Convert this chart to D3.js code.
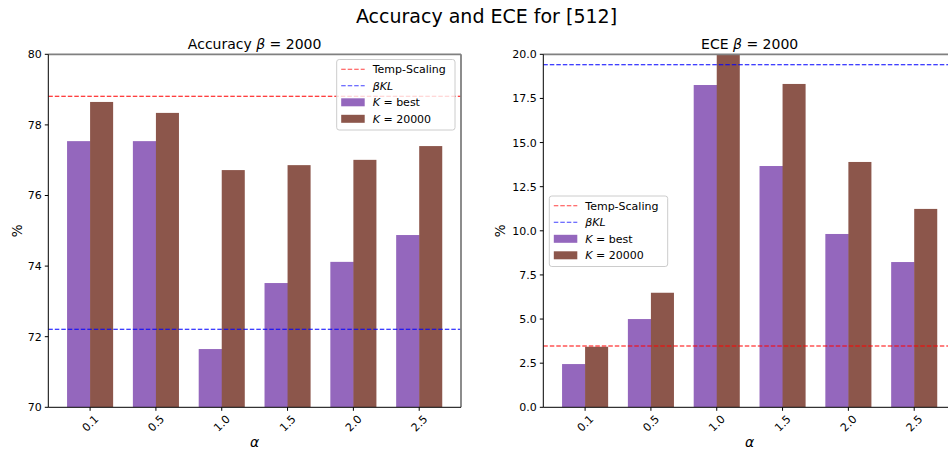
<!DOCTYPE html>
<html>
<head>
<meta charset="utf-8">
<script src="https://cdn.jsdelivr.net/npm/d3@7"></script>
<style>
  html, body { margin: 0; padding: 0; background: #fff; }
  svg { display: block; font-family: "DejaVu Sans", sans-serif; }
</style>
</head>
<body>
<svg id="fig" width="948" height="455"></svg>
<script>
// alpha values on the x axis
const alphas = ["0.1", "0.5", "1.0", "1.5", "2.0", "2.5"];

// Accuracy (%) per alpha
const accBest = [77.54, 77.54, 71.65, 73.52, 74.12, 74.88];
const acc20000 = [78.65, 78.34, 76.72, 76.86, 77.01, 77.40];
const accTempScaling = 78.81;
const accBetaKL = 72.21;
const accTicks = [70, 72, 74, 76, 78, 80];

// ECE (%) per alpha
const eceBest = [2.45, 5.00, 18.26, 13.67, 9.82, 8.23];
const ece20000 = [3.43, 6.49, 20.0, 18.32, 13.90, 11.24];
const eceTempScaling = 3.47;
const eceBetaKL = 19.41;
const eceTicks = [0, 2.5, 5, 7.5, 10, 12.5, 15, 17.5, 20];

const legendLabels = ["Temp-Scaling", "βKL", "K = best", "K = 20000"];

const C_BEST = "#9467bd", C_20K = "#8c564b", C_TS = "#ff0000", C_KL = "#0000ff";
const BAR_W = 0.35;

const svg = d3.select("#fig");

svg.append("text")
  .attr("x", 486.5).attr("y", 22.5)
  .attr("text-anchor", "middle")
  .style("font-size", "19px")
  .text("Accuracy and ECE for [512]");

function panel(opts) {
  const { x0, x1, y0, y1, domain, ticks, fmt, best, k20, ts, kl, title, legendPos, id, ylabelOffset } = opts;
  const g = svg.append("g");
  const x = d3.scaleLinear().domain([-0.635, alphas.length - 1 + 0.635]).range([x0, x1]);
  const y = d3.scaleLinear().domain(domain).range([y1, y0]);

  g.append("clipPath").attr("id", id).append("rect")
    .attr("x", x0).attr("y", y0).attr("width", x1 - x0).attr("height", y1 - y0);
  const plot = g.append("g").attr("clip-path", `url(#${id})`);

  // bars
  plot.selectAll("rect.best").data(best).join("rect")
    .attr("x", (d, i) => x(i - BAR_W))
    .attr("width", (d, i) => x(i) - x(i - BAR_W) + 0.5)
    .attr("y", d => y(d))
    .attr("height", d => y(domain[0]) - y(d))
    .attr("fill", C_BEST);
  plot.selectAll("rect.k20").data(k20).join("rect")
    .attr("x", (d, i) => x(i))
    .attr("width", (d, i) => x(i + BAR_W) - x(i))
    .attr("y", d => y(d))
    .attr("height", d => y(domain[0]) - y(d))
    .attr("fill", C_20K);

  // reference lines
  [[ts, C_TS], [kl, C_KL]].forEach(([v, c]) => {
    plot.append("line")
      .attr("x1", x0).attr("x2", x1).attr("y1", y(v)).attr("y2", y(v))
      .attr("stroke", c).attr("stroke-width", 1.1)
      .attr("stroke-dasharray", "4.5,2");
  });

  // spines
  g.append("line").attr("x1", x0).attr("x2", x1).attr("y1", y0).attr("y2", y0)
    .attr("stroke", "#808080").attr("stroke-width", 1.8);
  g.append("line").attr("x1", x1).attr("x2", x1).attr("y1", y0).attr("y2", y1)
    .attr("stroke", "#808080").attr("stroke-width", 1.8);
  g.append("line").attr("x1", x0).attr("x2", x0).attr("y1", y0).attr("y2", y1)
    .attr("stroke", "#000").attr("stroke-width", 1);
  g.append("line").attr("x1", x0).attr("x2", x1).attr("y1", y1).attr("y2", y1)
    .attr("stroke", "#000").attr("stroke-width", 1);

  // y ticks
  ticks.forEach(t => {
    g.append("line").attr("x1", x0 - 3.5).attr("x2", x0).attr("y1", y(t)).attr("y2", y(t))
      .attr("stroke", "#000").attr("stroke-width", 1);
    g.append("text").attr("x", x0 - 6.5).attr("y", y(t)).attr("dy", "0.36em")
      .attr("text-anchor", "end").style("font-size", "11px").text(fmt(t));
  });

  // x ticks
  alphas.forEach((a, i) => {
    g.append("line").attr("x1", x(i)).attr("x2", x(i)).attr("y1", y1).attr("y2", y1 + 3.5)
      .attr("stroke", "#000").attr("stroke-width", 1);
    g.append("text")
      .attr("transform", `translate(${x(i)},${y1 + 16}) rotate(-45)`)
      .attr("text-anchor", "middle").attr("dy", "0.36em")
      .style("font-size", "11px").text(a);
  });

  // axis labels
  g.append("text").attr("x", (x0 + x1) / 2).attr("y", y1 + 34.5)
    .attr("dy", "0.36em").attr("text-anchor", "middle")
    .style("font-size", "14px").style("font-style", "italic").text("α");
  g.append("text")
    .attr("transform", `translate(${x0 - ylabelOffset},${(y0 + y1) / 2}) rotate(-90)`)
    .attr("text-anchor", "middle").attr("dy", "0.36em")
    .style("font-size", "13.5px").text("%");

  // title
  const tt = g.append("text").attr("x", (x0 + x1) / 2).attr("y", y0 - 5)
    .attr("text-anchor", "middle").style("font-size", "14px");
  tt.append("tspan").text(title + " ");
  tt.append("tspan").style("font-style", "italic").text("β");
  tt.append("tspan").text(" = 2000");

  // legend
  const lg = g.append("g").attr("transform", `translate(${legendPos[0]},${legendPos[1]})`);
  lg.append("rect").attr("x", 0).attr("y", 0).attr("width", legendPos[2]).attr("height", 70.5)
    .attr("rx", 2.5).attr("fill", "#fff").attr("fill-opacity", 0.8)
    .attr("stroke", "#cccccc").attr("stroke-width", 1);
  const rowY = i => 9.8 + i * 16.5;
  [C_TS, C_KL].forEach((c, i) => {
    lg.append("line").attr("x1", 4.5).attr("x2", 28).attr("y1", rowY(i)).attr("y2", rowY(i))
      .attr("stroke", c).attr("stroke-width", 1.1).attr("stroke-dasharray", "4.5,2")
      .attr("stroke-opacity", 0.75);
  });
  [C_BEST, C_20K].forEach((c, i) => {
    lg.append("rect").attr("x", 4.5).attr("y", rowY(i + 2) - 4).attr("width", 23.5).attr("height", 8)
      .attr("fill", c);
  });
  const lt = (i) => lg.append("text").attr("x", 36).attr("y", rowY(i)).attr("dy", "0.36em")
    .style("font-size", "11px");
  lt(0).text(legendLabels[0]);
  lt(1).style("font-style", "italic").text(legendLabels[1]);
  [2, 3].forEach(i => {
    const t = lt(i);
    const [k, rest] = legendLabels[i].split(" = ");
    t.append("tspan").style("font-style", "italic").text(k);
    t.append("tspan").text(" = " + rest);
  });
}

panel({
  id: "clipAcc", x0: 48.3, x1: 461, y0: 54.3, y1: 407.3,
  domain: [70, 80], ticks: accTicks, fmt: d => String(d),
  best: accBest, k20: acc20000, ts: accTempScaling, kl: accBetaKL,
  title: "Accuracy", legendPos: [336.7, 59.5, 118.3], ylabelOffset: 31.5
});

panel({
  id: "clipEce", x0: 543.3, x1: 956, y0: 54.3, y1: 407.3,
  domain: [0, 20], ticks: eceTicks, fmt: d3.format(".1f"),
  best: eceBest, k20: ece20000, ts: eceTempScaling, kl: eceBetaKL,
  title: "ECE", legendPos: [549.3, 196, 118.4], ylabelOffset: 43.5
});
</script>
</body>
</html>
